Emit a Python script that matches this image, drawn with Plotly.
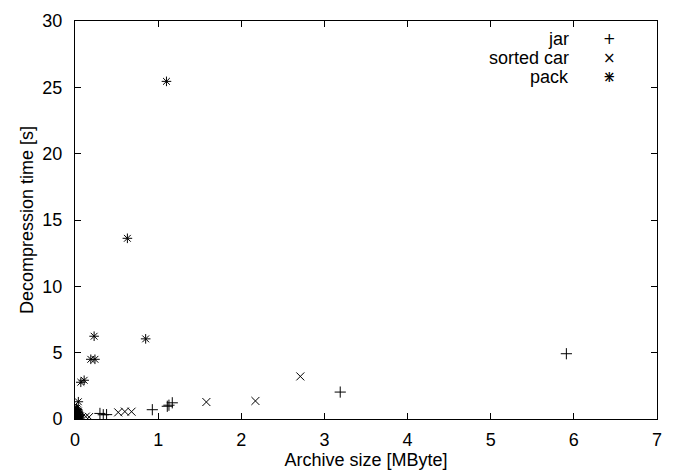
import plotly.graph_objects as go

# Data (Archive size [MByte], Decompression time [s])
jar_x = [0.01, 0.02, 0.02, 0.03, 0.04, 0.05, 0.01, 0.03, 0.02, 0.01, 0.04, 0.02,
         0.30, 0.34, 0.38, 0.93, 1.11, 1.13, 1.17, 3.19, 5.91]
jar_y = [0.05, 0.10, 0.20, 0.15, 0.30, 0.25, 0.40, 0.50, 0.70, 0.60, 0.10, 0.35,
         0.42, 0.32, 0.33, 0.70, 0.96, 1.04, 1.22, 2.03, 4.92]

car_x = [0.01, 0.02, 0.03, 0.05, 0.04, 0.02, 0.06, 0.01, 0.03, 0.08,
         0.13, 0.17, 0.52, 0.60, 0.68, 1.58, 2.17, 2.71]
car_y = [0.02, 0.05, 0.10, 0.15, 0.30, 0.50, 0.20, 0.25, 0.40, 0.12,
         0.18, 0.15, 0.50, 0.56, 0.55, 1.28, 1.36, 3.21]

pack_x = [0.01, 0.02, 0.03, 0.02, 0.04, 0.05, 0.03, 0.01, 0.04, 0.02, 0.01,
          0.04, 0.07, 0.11, 0.19, 0.24, 0.23, 0.63, 0.85, 1.10]
pack_y = [0.10, 0.30, 0.50, 0.80, 0.60, 0.20, 0.70, 0.45, 0.35, 0.05, 0.65,
          1.30, 2.77, 2.92, 4.50, 4.50, 6.24, 13.62, 6.04, 25.45]

series_names = ["jar", "sorted car", "pack"]
x_ticks = [0, 1, 2, 3, 4, 5, 6, 7]
y_ticks = [0, 5, 10, 15, 20, 25, 30]

FONT = "Liberation Sans, Arial, sans-serif"
FS = 18

fig = go.Figure()
series = [
    (series_names[0], jar_x, jar_y, "cross-thin-open"),
    (series_names[1], car_x, car_y, "x-thin-open"),
    (series_names[2], pack_x, pack_y, "asterisk-open"),
]
for name, xs, ys, sym in series:
    fig.add_trace(go.Scatter(
        x=xs, y=ys, mode="markers", name=name, showlegend=False,
        marker=dict(symbol=sym, size=8, color="black",
                    line=dict(color="black", width=1)),
    ))

# gnuplot-style key: right-aligned text, symbol to the right
key_rows_y = [0.9556, 0.9065, 0.859]
key_glyphs = [["+"], ["×"], ["+", "×"]]
for name, yk, glyphs in zip(series_names, key_rows_y, key_glyphs):
    fig.add_annotation(x=0.852, y=yk, xref="paper", yref="paper",
                       text=name, showarrow=False, xanchor="right",
                       yanchor="middle",
                       font=dict(family=FONT, size=FS, color="black"))
    for g in glyphs:
        fig.add_annotation(x=0.918, y=yk, xref="paper", yref="paper",
                           text=g, showarrow=False, xanchor="center",
                           yanchor="middle",
                           font=dict(family="DejaVu Sans", size=15,
                                     color="black"))

axis_common = dict(
    showline=True, linecolor="black", linewidth=1, mirror="allticks",
    ticks="inside", ticklen=6, tickwidth=1, tickcolor="black",
    showgrid=False, zeroline=False,
    tickfont=dict(family=FONT, size=FS, color="black"),
)

fig.update_layout(
    width=673, height=476,
    margin=dict(l=75, r=11, t=14, b=57),
    paper_bgcolor="white", plot_bgcolor="white",
    font=dict(family=FONT, size=FS, color="black"),
    xaxis=dict(range=[0, 7], tickvals=x_ticks, ticklabelstandoff=4,
               title=dict(text="Archive size [MByte]", standoff=2,
                          font=dict(family=FONT, size=FS, color="black")),
               **axis_common),
    yaxis=dict(range=[0, 30], tickvals=y_ticks, ticklabelstandoff=8,
               title=dict(text="Decompression time [s]", standoff=4,
                          font=dict(family=FONT, size=FS, color="black")),
               **axis_common),
    showlegend=False,
)

fig.write_html("out.html")
